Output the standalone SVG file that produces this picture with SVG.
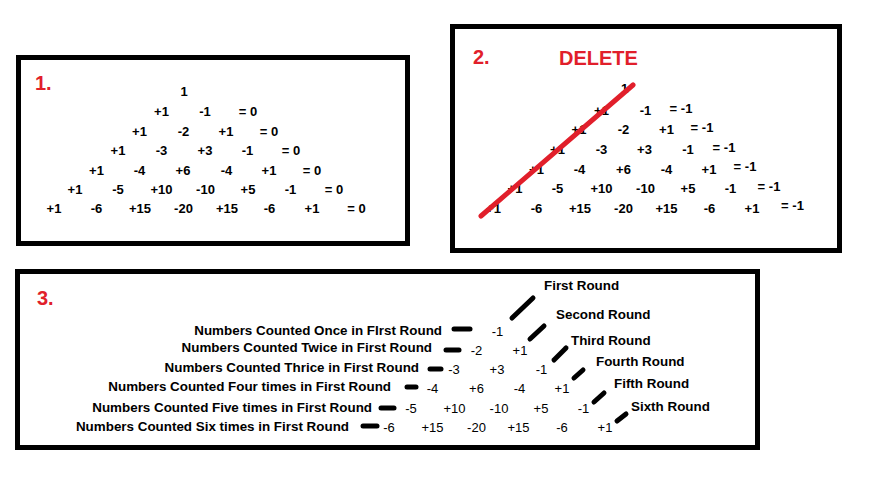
<svg xmlns="http://www.w3.org/2000/svg" width="890" height="492" viewBox="0 0 890 492">
<style>
.box{fill:#fff;stroke:#000;stroke-width:5}
.n{font-family:"Liberation Sans",Arial,sans-serif;font-weight:bold;font-size:13px;fill:#000;text-anchor:middle}
.r{font-family:"Liberation Sans",Arial,sans-serif;font-size:13px;fill:#000;text-anchor:middle}
.lab{font-family:"Liberation Sans",Arial,sans-serif;font-weight:bold;font-size:13.4px;fill:#000;text-anchor:end}
.rnd{font-family:"Liberation Sans",Arial,sans-serif;font-weight:bold;font-size:13.4px;fill:#000}
.red{font-family:"Liberation Sans",Arial,sans-serif;font-weight:bold;font-size:20px;fill:#e11f2b}
.dash{stroke:#000;stroke-width:5;stroke-linecap:round;fill:none}
</style>
<rect width="890" height="492" fill="#fff"/>

<g id="panel1">
<rect class="box" x="18.5" y="57.5" width="389" height="186"/>
<text class="red" x="35" y="90">1.</text>
<text class="n" x="184" y="96">1</text>
<text class="n" x="161.5" y="116">+1</text><text class="n" x="205" y="116">-1</text><text class="n" x="248" y="116">= 0</text>
<text class="n" x="139.5" y="136">+1</text><text class="n" x="183.5" y="136">-2</text><text class="n" x="226" y="136">+1</text><text class="n" x="269" y="136">= 0</text>
<text class="n" x="118" y="155">+1</text><text class="n" x="161.5" y="155">-3</text><text class="n" x="205" y="155">+3</text><text class="n" x="247.5" y="155">-1</text><text class="n" x="291" y="155">= 0</text>
<text class="n" x="96.5" y="175">+1</text><text class="n" x="139.5" y="175">-4</text><text class="n" x="183" y="175">+6</text><text class="n" x="226.5" y="175">-4</text><text class="n" x="269" y="175">+1</text><text class="n" x="312" y="175">= 0</text>
<text class="n" x="75" y="194">+1</text><text class="n" x="118" y="194">-5</text><text class="n" x="161.5" y="194">+10</text><text class="n" x="205.5" y="194">-10</text><text class="n" x="248" y="194">+5</text><text class="n" x="290.5" y="194">-1</text><text class="n" x="334" y="194">= 0</text>
<text class="n" x="54" y="213">+1</text><text class="n" x="96.5" y="213">-6</text><text class="n" x="140" y="213">+15</text><text class="n" x="183.5" y="213">-20</text><text class="n" x="227" y="213">+15</text><text class="n" x="269.5" y="213">-6</text><text class="n" x="312" y="213">+1</text><text class="n" x="356.5" y="213">= 0</text>
</g>

<g id="panel2">
<rect class="box" x="452.5" y="26.5" width="387" height="224"/>
<text class="red" x="473" y="64">2.</text>
<text class="red" x="559" y="65" font-size="21">DELETE</text>
<text class="n" x="624.5" y="93">1</text>
<text class="n" x="601.5" y="115">+1</text><text class="n" x="645.5" y="115">-1</text><text class="n" x="681" y="113">= -1</text>
<text class="n" x="579" y="134">+1</text><text class="n" x="623.5" y="134">-2</text><text class="n" x="666.5" y="134">+1</text><text class="n" x="702" y="132">= -1</text>
<text class="n" x="557.5" y="154">+1</text><text class="n" x="601.5" y="154">-3</text><text class="n" x="644.5" y="154">+3</text><text class="n" x="688" y="154">-1</text><text class="n" x="724" y="152">= -1</text>
<text class="n" x="536.5" y="174">+1</text><text class="n" x="579.5" y="174">-4</text><text class="n" x="623.5" y="174">+6</text><text class="n" x="666.5" y="174">-4</text><text class="n" x="709" y="174">+1</text><text class="n" x="745" y="171">= -1</text>
<text class="n" x="515" y="193">+1</text><text class="n" x="557.5" y="193">-5</text><text class="n" x="601.5" y="193">+10</text><text class="n" x="645.5" y="193">-10</text><text class="n" x="688" y="193">+5</text><text class="n" x="730.5" y="193">-1</text><text class="n" x="769" y="191">= -1</text>
<text class="n" x="493.5" y="213">+1</text><text class="n" x="536.5" y="213">-6</text><text class="n" x="580" y="213">+15</text><text class="n" x="623.5" y="213">-20</text><text class="n" x="666.5" y="213">+15</text><text class="n" x="709.5" y="213">-6</text><text class="n" x="752" y="213">+1</text><text class="n" x="792.5" y="210">= -1</text>
<line x1="481" y1="216" x2="633" y2="85" stroke="#e11f2b" stroke-width="5" stroke-linecap="round"/>
</g>

<g id="panel3">
<rect class="box" x="17.5" y="271.5" width="740" height="176"/>
<text class="red" x="37" y="305" font-weight="normal">3.</text>
<text class="lab" x="442" y="335">Numbers Counted Once in FIrst Round</text>
<text class="lab" x="432" y="352">Numbers Counted Twice in First Round</text>
<text class="lab" x="419" y="372">Numbers Counted Thrice in First Round</text>
<text class="lab" x="391" y="391">Numbers Counted Four times in First Round</text>
<text class="lab" x="372" y="412">Numbers Counted Five times in First Round</text>
<text class="lab" x="349" y="431">Numbers Counted Six times in First Round</text>
<text class="r" x="497.5" y="336">-1</text>
<text class="r" x="476.5" y="355">-2</text><text class="r" x="520" y="355">+1</text>
<text class="r" x="454" y="374">-3</text><text class="r" x="497" y="374">+3</text><text class="r" x="541.5" y="374">-1</text>
<text class="r" x="432.5" y="393">-4</text><text class="r" x="476.5" y="393">+6</text><text class="r" x="519.5" y="393">-4</text><text class="r" x="562" y="393">+1</text>
<text class="r" x="411" y="413">-5</text><text class="r" x="454.5" y="413">+10</text><text class="r" x="499" y="413">-10</text><text class="r" x="541" y="413">+5</text><text class="r" x="583.5" y="413">-1</text>
<text class="r" x="389" y="432">-6</text><text class="r" x="432.5" y="432">+15</text><text class="r" x="476.5" y="432">-20</text><text class="r" x="518.5" y="432">+15</text><text class="r" x="562" y="432">-6</text><text class="r" x="605" y="432">+1</text>
<text class="rnd" x="544" y="290">First Round</text>
<text class="rnd" x="556" y="319">Second Round</text>
<text class="rnd" x="571" y="345">Third Round</text>
<text class="rnd" x="596" y="366">Fourth Round</text>
<text class="rnd" x="614" y="388">Fifth Round</text>
<text class="rnd" x="631" y="411">Sixth Round</text>
</g>

<g id="connectors">
<line class="dash" x1="454" y1="329" x2="470" y2="329"/>
<line class="dash" x1="446" y1="350" x2="459" y2="350"/>
<line class="dash" x1="430" y1="369" x2="441" y2="369"/>
<line class="dash" x1="407" y1="387" x2="416" y2="387"/>
<line class="dash" x1="381" y1="408" x2="394" y2="408"/>
<line class="dash" x1="363" y1="426" x2="377" y2="426"/>
<line class="dash" x1="512" y1="318" x2="533" y2="298"/>
<line class="dash" x1="530" y1="339" x2="544" y2="326"/>
<line class="dash" x1="554" y1="360" x2="566" y2="348"/>
<line class="dash" x1="574" y1="378" x2="583" y2="370"/>
<line class="dash" x1="594" y1="402" x2="604" y2="393"/>
<line class="dash" x1="617" y1="421" x2="626" y2="414"/>
</g>
</svg>
